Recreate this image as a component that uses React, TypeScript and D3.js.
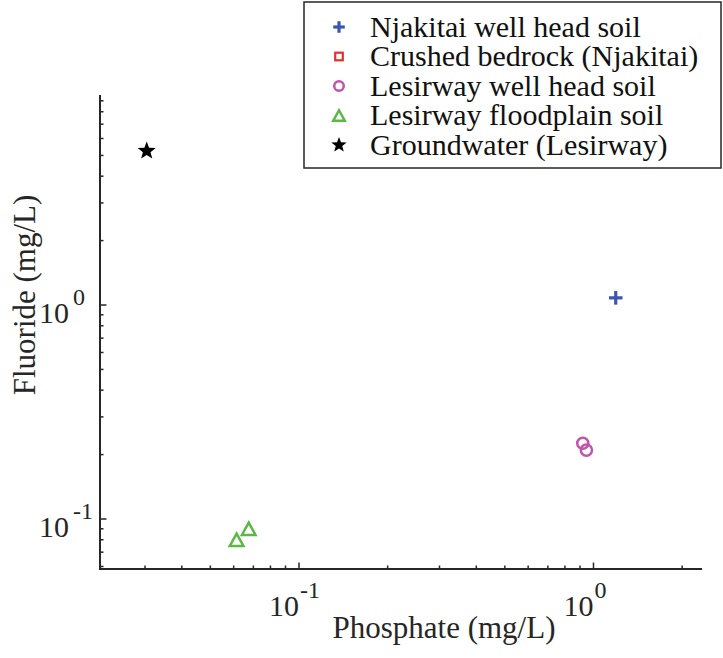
import React from "react";
import * as d3 from "d3";

const seriesNames = [
  "Njakitai well head soil",
  "Crushed bedrock (Njakitai)",
  "Lesirway well head soil",
  "Lesirway floodplain soil",
  "Groundwater (Lesirway)",
];
const seriesColors = ["#3a55b2", "#e8302a", "#c452aa", "#5cb844", "#000000"];
const seriesShapes = ["plus", "square", "circle", "triangle", "star"];

// [phosphate, fluoride]
const njakitaiSoil: [number, number][] = [[1.19, 1.08]];
const crushedBedrock: [number, number][] = [];
const lesirwaySoil: [number, number][] = [[0.92, 0.226], [0.946, 0.21]];
const lesirwayFloodplain: [number, number][] = [[0.0614, 0.080], [0.0675, 0.090]];
const groundwater: [number, number][] = [[0.0304, 5.25]];
const seriesData = [njakitaiSoil, crushedBedrock, lesirwaySoil, lesirwayFloodplain, groundwater];

const xDomain = [0.0211, 2.336];
const yDomain = [0.0584, 9.58];
const xMajor = [0.1, 1];
const xMajorExp = ["-1", "0"];
const yMajor = [0.1, 1];
const yMajorExp = ["-1", "0"];
const xMinor = [0.03, 0.04, 0.05, 0.06, 0.07, 0.08, 0.09, 0.2, 0.3, 0.4, 0.5, 0.6, 0.7, 0.8, 0.9, 2];
const yMinor = [0.06, 0.07, 0.08, 0.09, 0.2, 0.3, 0.4, 0.5, 0.6, 0.7, 0.8, 0.9, 2, 3, 4, 5, 6, 7, 8, 9];

const FONT = "'Liberation Serif', 'Times New Roman', serif";
const AX = "#262626";

function starPath(cx: number, cy: number, R: number) {
  const r = R * 0.42;
  const pts: string[] = [];
  for (let i = 0; i < 10; i++) {
    const a = -Math.PI / 2 + (i * Math.PI) / 5;
    const rr = i % 2 === 0 ? R : r;
    pts.push(`${cx + rr * Math.cos(a)},${cy + rr * Math.sin(a)}`);
  }
  return "M" + pts.join("L") + "Z";
}

function Marker({ shape, color, x, y, legend }: { shape: string; color: string; x: number; y: number; legend?: boolean }) {
  const s = legend ? 0.85 : 1;
  if (shape === "plus") {
    const a = 6.8 * s;
    return (
      <g stroke={color} strokeWidth={3.2}>
        <line x1={x - a} y1={y} x2={x + a} y2={y} />
        <line x1={x} y1={y - a} x2={x} y2={y + a} />
      </g>
    );
  }
  if (shape === "square") {
    const a = 3.8;
    return <rect x={x - a} y={y - a} width={2 * a} height={2 * a} fill="none" stroke={color} strokeWidth={2.2} />;
  }
  if (shape === "circle") {
    return <circle cx={x} cy={y} r={5.6 * s} fill="none" stroke={color} strokeWidth={2.5} />;
  }
  if (shape === "triangle") {
    const w = 6.8 * s;
    const h = 6.2 * s;
    return (
      <path d={`M${x},${y - h}L${x + w},${y + h}L${x - w},${y + h}Z`} fill="none" stroke={color} strokeWidth={2.5} strokeLinejoin="miter" />
    );
  }
  return <path d={starPath(x, y, 9.5 * s)} fill={color} />;
}

export default function App() {
  const W = 723;
  const H = 658;
  const left = 100, right = 702, top = 95, bottom = 569;
  const x = d3.scaleLog().domain(xDomain).range([left, right]);
  const y = d3.scaleLog().domain(yDomain).range([bottom, top]);

  return (
    <svg width={W} height={H} style={{ position: "absolute", left: 0, top: 0, background: "#fff" }} fontFamily={FONT}>
      <rect width={W} height={H} fill="#fff" />
      {/* ticks */}
      <g stroke={AX} strokeWidth={1.5}>
        {xMinor.map((v, i) => (
          <line key={"xm" + i} x1={x(v)} x2={x(v)} y1={bottom} y2={bottom - 3.5} />
        ))}
        {xMajor.map((v, i) => (
          <line key={"xM" + i} x1={x(v)} x2={x(v)} y1={bottom} y2={bottom - 6.5} />
        ))}
        {yMinor.map((v, i) => (
          <line key={"ym" + i} x1={left} x2={left + 3.5} y1={y(v)} y2={y(v)} />
        ))}
        {yMajor.map((v, i) => (
          <line key={"yM" + i} x1={left} x2={left + 6.5} y1={y(v)} y2={y(v)} />
        ))}
      </g>
      {/* axis lines */}
      <path d={`M${left},${top}V${bottom}H${right}`} fill="none" stroke={AX} strokeWidth={2} />
      {/* x tick labels */}
      {xMajor.map((v, i) => (
        <g key={"xl" + i} fill={AX}>
          <text x={x(v)} y={616} fontSize={30} textAnchor="end">10</text>
          <text x={x(v) + 1} y={598} fontSize={24}>{xMajorExp[i]}</text>
        </g>
      ))}
      {/* y tick labels */}
      {yMajor.map((v, i) => (
        <g key={"yl" + i} fill={AX}>
          <text x={69} y={y(v) + 18} fontSize={30} textAnchor="end">10</text>
          <text x={73} y={y(v)} fontSize={24}>{yMajorExp[i]}</text>
        </g>
      ))}
      {/* axis labels */}
      <text x={444} y={638} fontSize={31} textAnchor="middle" fill={AX}>Phosphate (mg/L)</text>
      <text transform={`translate(35,295) rotate(-90)`} fontSize={31} textAnchor="middle" fill={AX}>Fluoride (mg/L)</text>
      {/* points */}
      {seriesData.map((data, si) =>
        data.map((d, j) => (
          <Marker key={si + "-" + j} shape={seriesShapes[si]} color={seriesColors[si]} x={x(d[0])} y={y(d[1])} />
        ))
      )}
      {/* legend */}
      <rect x={304} y={2} width={417} height={166} fill="#fff" stroke={AX} strokeWidth={1.5} />
      {seriesNames.map((n, i) => {
        const ly = 27 + i * 29.5;
        return (
          <g key={"lg" + i}>
            <Marker shape={seriesShapes[i]} color={seriesColors[i]} x={339} y={ly} legend />
            <text x={370} y={ly + 9.5} fontSize={30} fill="#111">{n}</text>
          </g>
        );
      })}
    </svg>
  );
}
